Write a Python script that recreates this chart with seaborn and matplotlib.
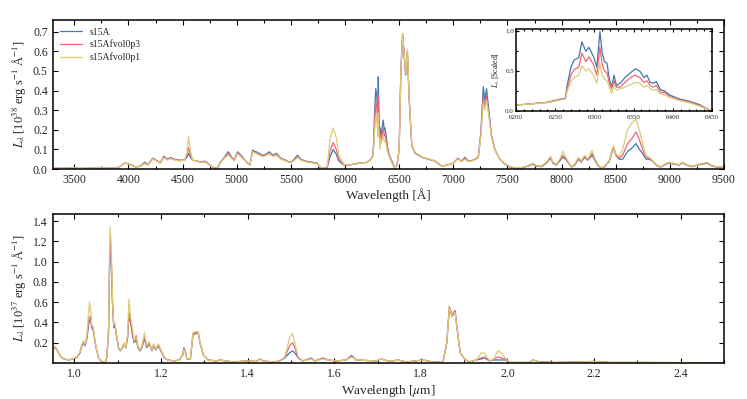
import numpy as np
import pandas as pd
import matplotlib
matplotlib.use('Agg')
import matplotlib.pyplot as plt
from matplotlib.ticker import MultipleLocator
import seaborn as sns

# ─────────────────────────────────────────
# 1. DATA
# ─────────────────────────────────────────
models = ['s15A', 's15Afvol0p3', 's15Afvol0p1']
colors = ['#4477AA', '#EE6677', '#DDCC77']

# optical spectrum, wavelength in Angstrom, L in 1e38 erg/s/A
wl_opt = [3300, 3400, 3490, 3550, 3650, 3740, 3800, 3890, 3920, 3966, 3996, 4027, 4058, 4088,
          4119, 4150, 4180, 4226, 4257, 4294, 4327, 4358, 4386, 4426, 4472, 4518, 4540, 4555,
          4573, 4594, 4640, 4671, 4702, 4732, 4763, 4794, 4824, 4849, 4886, 4922, 4953, 4977,
          5008, 5039, 5070, 5100, 5122, 5146, 5192, 5238, 5269, 5300, 5336, 5367, 5407, 5453,
          5484, 5514, 5560, 5591, 5637, 5698, 5744, 5766, 5806, 5836, 5861, 5891, 5919, 5944,
          5990, 6036, 6082, 6128, 6174, 6200, 6240, 6258, 6265, 6274, 6284, 6293, 6303, 6307,
          6313, 6322, 6325, 6333, 6352, 6363, 6367, 6379, 6390, 6409, 6434, 6460, 6480, 6500,
          6516, 6532, 6550, 6560, 6576, 6593, 6617, 6648, 6709, 6771, 6832, 6893, 6940, 7001,
          7041, 7077, 7108, 7139, 7185, 7231, 7255, 7277, 7292, 7307, 7328, 7353, 7384, 7430,
          7476, 7522, 7568, 7629, 7690, 7736, 7767, 7813, 7859, 7899, 7920, 7951, 7982, 8012,
          8037, 8058, 8089, 8120, 8156, 8181, 8212, 8242, 8282, 8303, 8334, 8365, 8395, 8441,
          8478, 8503, 8533, 8564, 8610, 8656, 8687, 8718, 8748, 8779, 8810, 8840, 8886, 8917,
          8963, 8993, 9039, 9085, 9115, 9161, 9207, 9253, 9299, 9345, 9391, 9437, 9500]
opt_s15A = [.003, .004, .006, .003, .004, .006, .004, .005, .012, .030, .028, .020, .012, .012,
            .018, .035, .022, .056, .045, .032, .066, .050, .058, .050, .045, .046, .060, .080,
            .060, .045, .040, .035, .040, .030, .015, .005, .005, .035, .060, .088, .060, .045,
            .088, .070, .050, .030, .020, .095, .085, .070, .075, .088, .070, .080, .055, .045,
            .035, .040, .070, .050, .040, .035, .030, .010, .003, .010, .060, .100, .075, .040,
            .020, .020, .025, .030, .032, .034, .050, .070, .150, .300, .410, .375, .260, .470,
            .290, .140, .210, .165, .250, .200, .210, .175, .118, .070, .038, .005, .020, .100,
            .500, .690, .550, .480, .600, .350, .120, .080, .060, .050, .040, .015, .020, .030,
            .055, .040, .060, .040, .045, .060, .190, .420, .350, .410, .300, .170, .100, .050,
            .025, .010, .005, .005, .015, .025, .015, .012, .030, .055, .030, .020, .040, .060,
            .050, .035, .010, .020, .050, .035, .060, .045, .070, .050, .020, .005, .010, .040,
            .110, .070, .050, .050, .090, .110, .130, .100, .080, .050, .050, .040, .015, .010,
            .025, .030, .025, .020, .030, .020, .012, .020, .025, .030, .015, .010, .008]
opt_fvol0p3 = [.003, .004, .006, .003, .004, .006, .004, .005, .012, .030, .027, .020, .012, .012,
               .017, .030, .021, .054, .044, .031, .062, .048, .055, .048, .043, .045, .070, .110,
               .070, .045, .039, .034, .038, .029, .014, .005, .005, .033, .057, .080, .057, .043,
               .083, .066, .048, .029, .020, .090, .080, .066, .071, .082, .066, .075, .052, .043,
               .034, .038, .063, .047, .038, .033, .028, .010, .003, .012, .090, .135, .100, .050,
               .021, .020, .025, .029, .032, .034, .049, .068, .130, .245, .340, .320, .210, .376,
               .235, .130, .180, .140, .210, .170, .180, .150, .108, .066, .033, .005, .020, .100,
               .500, .690, .550, .480, .600, .350, .120, .082, .061, .051, .041, .015, .020, .030,
               .053, .039, .055, .039, .044, .058, .180, .370, .320, .370, .280, .165, .100, .050,
               .026, .012, .006, .006, .016, .027, .016, .013, .033, .060, .033, .022, .045, .070,
               .055, .038, .011, .022, .055, .038, .065, .048, .080, .055, .022, .006, .011, .042,
               .110, .072, .055, .070, .130, .160, .190, .150, .100, .060, .055, .042, .016, .011,
               .027, .032, .027, .021, .032, .021, .013, .021, .027, .032, .016, .011, .009]
opt_fvol0p1 = [.003, .004, .006, .003, .004, .006, .004, .005, .012, .029, .026, .019, .011, .011,
               .016, .027, .020, .052, .042, .030, .058, .046, .052, .046, .041, .045, .085, .165,
               .090, .045, .038, .033, .036, .028, .013, .005, .005, .031, .054, .072, .054, .041,
               .078, .062, .046, .028, .020, .087, .076, .063, .068, .077, .063, .071, .050, .041,
               .033, .036, .058, .045, .036, .031, .026, .010, .003, .015, .150, .210, .160, .070,
               .023, .020, .025, .029, .032, .034, .048, .066, .120, .200, .270, .250, .165, .285,
               .190, .105, .155, .130, .170, .140, .150, .127, .094, .061, .028, .005, .020, .100,
               .500, .690, .560, .490, .610, .360, .125, .085, .062, .052, .042, .015, .020, .030,
               .050, .038, .050, .038, .043, .056, .170, .340, .300, .350, .270, .160, .100, .050,
               .027, .013, .007, .007, .018, .030, .018, .015, .036, .065, .036, .024, .050, .090,
               .062, .042, .012, .025, .060, .042, .070, .052, .095, .060, .025, .007, .012, .045,
               .120, .075, .065, .100, .200, .240, .255, .200, .130, .070, .060, .044, .018, .012,
               .029, .034, .029, .022, .034, .022, .014, .022, .029, .034, .017, .012, .010]

# inset: [O I] 6300,6364 region, scaled to the s15A peak
wl_ins = [6200, 6219, 6240, 6257, 6263, 6265, 6270, 6274, 6280, 6284, 6289, 6293, 6299, 6303,
          6307, 6310, 6313, 6316, 6319, 6322, 6325, 6328, 6333, 6339, 6346, 6352, 6358, 6363,
          6367, 6371, 6375, 6379, 6384, 6390, 6396, 6409, 6422, 6434, 6447, 6450]
ins_s15A = [.075, .090, .110, .150, .160, .310, .550, .640, .670, .870, .750, .800, .680, .550,
            1.00, .720, .620, .600, .400, .300, .450, .320, .350, .420, .480, .530, .500, .420,
            .450, .360, .350, .370, .270, .250, .200, .150, .120, .080, .010, .005]
ins_fvol0p3 = [.075, .090, .108, .145, .155, .270, .450, .520, .550, .730, .620, .680, .580, .450,
               .800, .580, .500, .480, .350, .280, .380, .300, .300, .360, .420, .450, .420, .360,
               .380, .320, .300, .320, .240, .230, .180, .140, .110, .070, .010, .005]
ins_fvol0p1 = [.075, .088, .105, .140, .150, .240, .370, .420, .450, .570, .500, .530, .450, .350,
               .600, .450, .400, .380, .300, .220, .330, .260, .280, .300, .330, .360, .350, .300,
               .320, .280, .260, .270, .220, .200, .170, .130, .100, .060, .010, .005]

# near-infrared spectrum, wavelength in micron, L in 1e37 erg/s/A
wl_nir = [0.950, 0.956, 0.961, 0.969, 0.976, 0.988, 0.999, 1.006, 1.013, 1.017, 1.021, 1.025,
          1.029, 1.033, 1.035, 1.038, 1.040, 1.044, 1.048, 1.052, 1.056, 1.063, 1.071, 1.075,
          1.079, 1.082, 1.085, 1.088, 1.091, 1.094, 1.098, 1.102, 1.106, 1.111, 1.115, 1.119,
          1.123, 1.126, 1.130, 1.134, 1.138, 1.143, 1.147, 1.152, 1.156, 1.162, 1.167, 1.173,
          1.179, 1.183, 1.188, 1.194, 1.200, 1.208, 1.215, 1.231, 1.242, 1.250, 1.253, 1.257,
          1.260, 1.268, 1.274, 1.280, 1.286, 1.290, 1.298, 1.309, 1.328, 1.336, 1.351, 1.367,
          1.397, 1.420, 1.428, 1.436, 1.459, 1.474, 1.486, 1.497, 1.504, 1.509, 1.517, 1.528,
          1.547, 1.555, 1.574, 1.586, 1.605, 1.628, 1.640, 1.651, 1.674, 1.697, 1.709, 1.728,
          1.747, 1.767, 1.805, 1.828, 1.851, 1.860, 1.866, 1.872, 1.879, 1.885, 1.891, 1.901,
          1.912, 1.928, 1.940, 1.947, 1.959, 1.968, 1.978, 1.986, 1.997, 2.005, 2.051, 2.059,
          2.074, 2.113, 2.167, 2.197, 2.236, 2.282, 2.500]
nir_s15A = [.130, .160, .120, .060, .040, .030, .045, .055, .100, .160, .200, .170,
            .240, .380, .420, .440, .350, .320, .200, .120, .050, .012, .005, .050,
            .300, 1.12, 1.00, .600, .350, .360, .250, .150, .120, .150, .190, .150,
            .250, .450, .400, .280, .200, .230, .150, .120, .150, .240, .150, .190,
            .120, .170, .130, .170, .120, .050, .030, .020, .030, .080, .150, .100,
            .040, .040, .280, .290, .300, .200, .080, .030, .020, .030, .020, .010,
            .020, .015, .040, .020, .010, .020, .050, .100, .120, .100, .050, .020,
            .050, .020, .050, .030, .020, .030, .075, .030, .025, .020, .040, .015,
            .030, .010, .030, .010, .005, .200, .550, .470, .510, .300, .100, .040,
            .010, .030, .040, .050, .020, .030, .030, .030, .030, .005, .005, .030,
            .010, .005, .010, .015, .005, .005, .003]
nir_fvol0p3 = [.132, .160, .120, .060, .040, .030, .045, .058, .105, .170, .210, .180,
               .250, .420, .450, .460, .360, .330, .200, .120, .050, .012, .005, .050,
               .320, 1.22, 1.10, .630, .360, .370, .255, .155, .120, .155, .195, .150,
               .260, .500, .420, .300, .210, .270, .160, .125, .160, .260, .160, .200,
               .125, .180, .135, .180, .125, .052, .030, .020, .030, .075, .140, .095,
               .040, .040, .290, .300, .305, .200, .080, .030, .020, .030, .020, .010,
               .020, .015, .040, .020, .010, .020, .055, .170, .200, .150, .050, .020,
               .045, .020, .045, .030, .020, .030, .065, .030, .025, .020, .040, .015,
               .030, .010, .030, .010, .005, .200, .560, .470, .520, .300, .100, .040,
               .010, .030, .050, .060, .020, .035, .060, .050, .035, .005, .005, .030,
               .010, .005, .010, .015, .005, .005, .003]
nir_fvol0p1 = [.135, .165, .120, .060, .040, .030, .048, .062, .110, .180, .220, .185,
               .270, .500, .600, .500, .380, .350, .210, .120, .050, .012, .005, .055,
               .350, 1.34, 1.20, .650, .380, .400, .260, .160, .125, .160, .200, .155,
               .280, .630, .450, .350, .220, .250, .170, .130, .170, .300, .170, .210,
               .130, .190, .140, .190, .130, .055, .030, .020, .030, .070, .130, .090,
               .040, .040, .300, .310, .310, .200, .080, .030, .020, .030, .020, .010,
               .020, .015, .045, .020, .010, .020, .060, .250, .290, .200, .060, .020,
               .040, .020, .040, .030, .020, .030, .060, .030, .025, .020, .040, .015,
               .030, .010, .030, .010, .005, .200, .550, .450, .500, .300, .100, .040,
               .010, .030, .100, .100, .020, .040, .120, .100, .040, .005, .005, .030,
               .010, .005, .010, .015, .005, .005, .003]


def long_form(wl, *series):
    frames = [pd.DataFrame({'wl': wl, 'flux': s, 'model': m}) for m, s in zip(models, series)]
    return pd.concat(frames, ignore_index=True)


df_opt = long_form(wl_opt, opt_s15A, opt_fvol0p3, opt_fvol0p1)
df_ins = long_form(wl_ins, ins_s15A, ins_fvol0p3, ins_fvol0p1)
df_nir = long_form(wl_nir, nir_s15A, nir_fvol0p3, nir_fvol0p1)

# ─────────────────────────────────────────
# 2. STYLE
# ─────────────────────────────────────────
sns.set_style('ticks')
plt.rcParams['font.family'] = ['Liberation Serif', 'DejaVu Serif']
plt.rcParams['mathtext.fontset'] = 'stix'
palette = dict(zip(models, colors))


def style_axes(ax, size=8.5, major=3.5, minor=2.0):
    ax.tick_params(which='both', direction='in', top=True, right=True,
                   labelsize=size, width=0.8, color='black')
    ax.tick_params(which='major', length=major)
    ax.tick_params(which='minor', length=minor)
    for sp in ax.spines.values():
        sp.set_linewidth(1.1)
        sp.set_color('black')


fig = plt.figure(figsize=(7.47, 3.99), dpi=100)

# ── Top: optical
ax1 = fig.add_axes([0.0705, 0.5764, 0.8987, 0.3734])
sns.lineplot(data=df_opt, x='wl', y='flux', hue='model', palette=palette,
             estimator=None, sort=False, lw=0.9, ax=ax1)
ax1.set_xlim(3300, 9500)
ax1.set_ylim(0, 0.76)
ax1.xaxis.set_major_locator(MultipleLocator(500))
ax1.xaxis.set_minor_locator(MultipleLocator(250))
ax1.yaxis.set_major_locator(MultipleLocator(0.1))
ax1.set_xlabel('Wavelength [Å]', fontsize=9.5, labelpad=2)
ax1.set_ylabel(r'$L_\lambda$ [10$^{38}$ erg s$^{-1}$ Å$^{-1}$]', fontsize=9, labelpad=3)
style_axes(ax1)
ax1.legend(loc='upper left', frameon=False, fontsize=7, handlelength=2.2,
           labelspacing=0.3, borderaxespad=0.4)

# ── Inset: [O I] scaled
ax_in = fig.add_axes([0.6908, 0.7218, 0.2624, 0.2055])
sns.lineplot(data=df_ins, x='wl', y='flux', hue='model', palette=palette,
             estimator=None, sort=False, lw=0.9, ax=ax_in, legend=False)
ax_in.set_xlim(6200, 6450)
ax_in.set_ylim(0, 1.03)
ax_in.xaxis.set_major_locator(MultipleLocator(50))
ax_in.xaxis.set_minor_locator(MultipleLocator(10))
ax_in.yaxis.set_major_locator(MultipleLocator(0.5))
ax_in.yaxis.set_minor_locator(MultipleLocator(0.25))
ax_in.set_xlabel('')
ax_in.set_ylabel(r'$L_\lambda$ [Scaled]', fontsize=5.5, labelpad=2)
style_axes(ax_in, size=5, major=2.5, minor=1.5)
ax_in.tick_params(axis='x', pad=3)
ax_in.tick_params(axis='y', pad=1.5)

# ── Bottom: near infrared
ax2 = fig.add_axes([0.0705, 0.0902, 0.8987, 0.3734])
sns.lineplot(data=df_nir, x='wl', y='flux', hue='model', palette=palette,
             estimator=None, sort=False, lw=0.9, ax=ax2, legend=False)
ax2.set_xlim(0.95, 2.5)
ax2.set_ylim(0, 1.47)
ax2.xaxis.set_major_locator(MultipleLocator(0.2))
ax2.xaxis.set_minor_locator(MultipleLocator(0.1))
ax2.set_yticks([0.2, 0.4, 0.6, 0.8, 1.0, 1.2, 1.4])
ax2.set_xlabel(r'Wavelength [$\mu$m]', fontsize=9.5, labelpad=2)
ax2.set_ylabel(r'$L_\lambda$ [10$^{37}$ erg s$^{-1}$ Å$^{-1}$]', fontsize=9, labelpad=3)
style_axes(ax2)

fig.savefig('out.png', dpi=100, facecolor='white')
